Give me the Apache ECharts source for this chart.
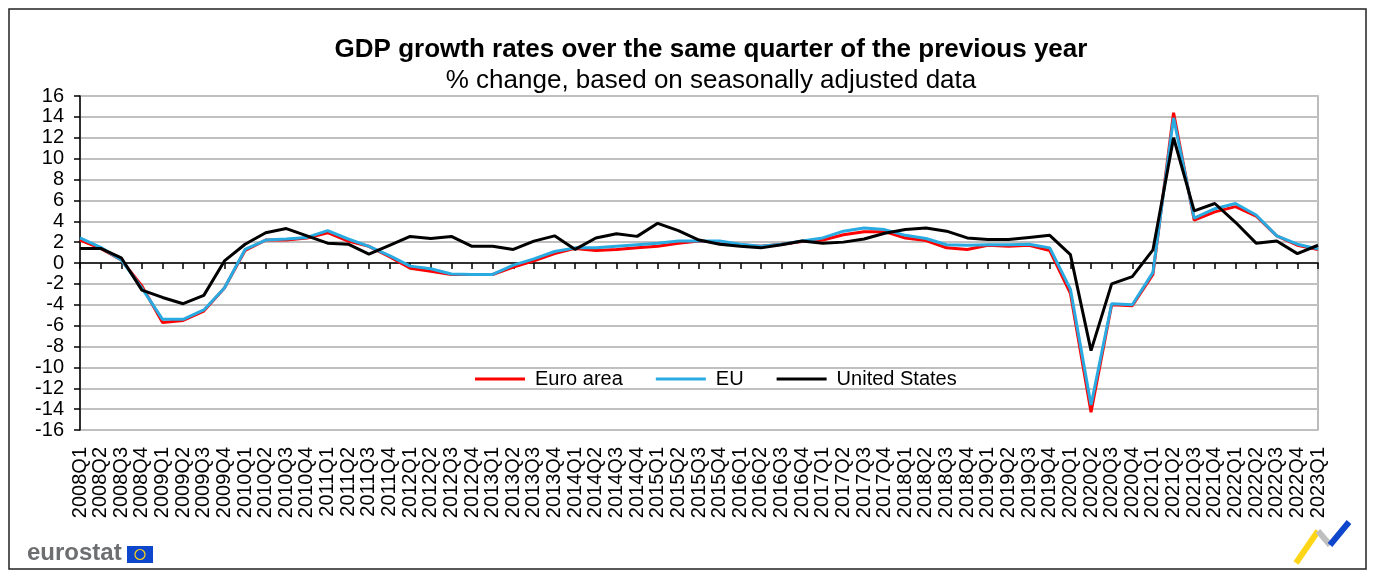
<!DOCTYPE html>
<html>
<head>
<meta charset="utf-8">
<script src="https://cdn.jsdelivr.net/npm/echarts@6/dist/echarts.min.js"></script>
<style>
  html, body { margin: 0; padding: 0; background: #fff; }
  #chart { width: 1375px; height: 573px; }
</style>
</head>
<body>
<div id="chart"></div>
<script>
// quarters on the x axis
const quarters = [
  '2008Q1','2008Q2','2008Q3','2008Q4','2009Q1','2009Q2','2009Q3','2009Q4',
  '2010Q1','2010Q2','2010Q3','2010Q4','2011Q1','2011Q2','2011Q3','2011Q4',
  '2012Q1','2012Q2','2012Q3','2012Q4','2013Q1','2013Q2','2013Q3','2013Q4',
  '2014Q1','2014Q2','2014Q3','2014Q4','2015Q1','2015Q2','2015Q3','2015Q4',
  '2016Q1','2016Q2','2016Q3','2016Q4','2017Q1','2017Q2','2017Q3','2017Q4',
  '2018Q1','2018Q2','2018Q3','2018Q4','2019Q1','2019Q2','2019Q3','2019Q4',
  '2020Q1','2020Q2','2020Q3','2020Q4','2021Q1','2021Q2','2021Q3','2021Q4',
  '2022Q1','2022Q2','2022Q3','2022Q4','2023Q1'
]

// % change y/y
const euroArea = [
  2.2, 1.4, 0.3, -2.2, -5.7, -5.5, -4.6, -2.4,
  1.2, 2.2, 2.2, 2.4, 2.9, 2.1, 1.6, 0.6,
  -0.5, -0.8, -1.1, -1.1, -1.1, -0.4, 0.2, 0.9,
  1.4, 1.2, 1.3, 1.45, 1.6, 1.9, 2.1, 2.0,
  1.75, 1.6, 1.8, 2.05, 2.2, 2.7, 3.0, 3.0,
  2.4, 2.15, 1.45, 1.3, 1.7, 1.6, 1.7, 1.2,
  -2.9, -14.3, -4.0, -4.1, -1.1, 14.4, 4.1, 4.9,
  5.4, 4.5, 2.6, 1.7, 1.3
]
const eu = [
  2.4, 1.5, 0.3, -2.4, -5.4, -5.4, -4.5, -2.4,
  1.3, 2.2, 2.3, 2.45, 3.1, 2.3, 1.6, 0.7,
  -0.3, -0.55, -1.05, -1.1, -1.1, -0.2, 0.4, 1.1,
  1.45, 1.45, 1.6, 1.75, 1.9, 2.1, 2.1, 2.1,
  1.8, 1.6, 1.8, 2.1, 2.4, 3.05, 3.35, 3.2,
  2.65, 2.35, 1.75, 1.7, 1.75, 1.75, 1.8, 1.45,
  -2.5, -13.6, -3.9, -4.0, -0.9, 13.9, 4.3, 5.2,
  5.7, 4.6, 2.6, 1.8, 1.35
]
const unitedStates = [
  1.4, 1.4, 0.5, -2.6, -3.3, -3.9, -3.1, 0.2,
  1.8, 2.9, 3.3, 2.6, 1.9, 1.8, 0.85, 1.7,
  2.55, 2.35, 2.55, 1.6, 1.6, 1.3, 2.1, 2.6,
  1.3, 2.4, 2.8, 2.55, 3.8, 3.1, 2.2, 1.8,
  1.6, 1.45, 1.75, 2.1, 1.9, 2.0, 2.3, 2.85,
  3.2, 3.35, 3.05, 2.4, 2.25, 2.25, 2.45, 2.65,
  0.8, -8.4, -2.0, -1.3, 1.25, 12.0, 5.0, 5.7,
  3.9, 1.9, 2.1, 0.9, 1.7
]

const font = 'Liberation Sans, Arial, sans-serif'

const chart = echarts.init(document.getElementById('chart'))
chart.setOption({
  animation: false,
  title: [
    {
      text: 'GDP growth rates over the same quarter of the previous year',
      left: 706,
      textAlign: 'center',
      top: 32,
      textStyle: { fontFamily: font, fontSize: 26, fontWeight: 'bold', color: '#000' }
    },
    {
      text: '% change, based on seasonally adjusted data',
      left: 706,
      textAlign: 'center',
      top: 63,
      textStyle: { fontFamily: font, fontSize: 26, fontWeight: 'normal', color: '#000' }
    }
  ],
  legend: {
    left: 470,
    top: 364,
    itemWidth: 50,
    itemHeight: 3,
    itemGap: 33,
    icon: 'rect',
    textStyle: { fontFamily: font, fontSize: 20, color: '#000', padding: [0, 0, 0, 5] },
    data: ['Euro area', 'EU', 'United States']
  },
  grid: {
    left: 80,
    right: 57,
    top: 96,
    bottom: 143,
    show: true,
    borderColor: '#a6a6a6',
    borderWidth: 1.5
  },
  xAxis: [
    {
      type: 'category',
      data: quarters,
      boundaryGap: false,
      position: 'bottom',
      axisLine: { show: false, onZero: false },
      axisTick: { show: false },
      axisLabel: {
        interval: 0,
        rotate: 90,
        margin: 17,
        fontFamily: font,
        fontSize: 20,
        color: '#000'
      },
      splitLine: { show: false }
    },
    {
      // zero line with its tick marks
      type: 'category',
      data: quarters,
      boundaryGap: false,
      position: 'top',
      axisLine: { show: true, onZero: true, lineStyle: { color: '#000', width: 1.5 } },
      axisTick: { show: true, inside: true, interval: 0, length: 6, lineStyle: { color: '#000', width: 1.5 } },
      axisLabel: { show: false },
      splitLine: { show: false }
    }
  ],
  yAxis: {
    type: 'value',
    min: -16,
    max: 16,
    interval: 2,
    axisLine: { show: true, lineStyle: { color: '#000', width: 1.5 } },
    axisTick: { show: true, length: 6, lineStyle: { color: '#000', width: 1.5 } },
    axisLabel: { fontFamily: font, fontSize: 20, color: '#000', margin: 16 },
    splitLine: { show: true, lineStyle: { color: '#c0c0c0', width: 2 } }
  },
  series: [
    {
      name: 'Euro area',
      type: 'line',
      data: euroArea,
      symbol: 'none',
      lineStyle: { color: '#ff0000', width: 3 },
      itemStyle: { color: '#ff0000' }
    },
    {
      name: 'EU',
      type: 'line',
      data: eu,
      symbol: 'none',
      lineStyle: { color: '#29abe2', width: 3 },
      itemStyle: { color: '#29abe2' }
    },
    {
      name: 'United States',
      type: 'line',
      data: unitedStates,
      symbol: 'none',
      lineStyle: { color: '#000000', width: 3 },
      itemStyle: { color: '#000000' }
    }
  ],
  graphic: [
    {
      type: 'rect',
      shape: { x: 9, y: 9, width: 1357, height: 560 },
      style: { fill: 'none', stroke: '#222', lineWidth: 1.5 },
      silent: true
    },
    {
      type: 'text',
      left: 27,
      top: 541,
      style: { text: 'eurostat', fontFamily: font, fontSize: 24, fontWeight: 'bold', fill: '#6d6e70' }
    },
    {
      type: 'rect',
      shape: { x: 127, y: 546, width: 26, height: 17 },
      style: { fill: '#0e47cb' }
    },
    {
      type: 'circle',
      shape: { cx: 140, cy: 554.5, r: 5 },
      style: { fill: 'none', stroke: '#ffd617', lineWidth: 1.2 }
    },
    {
      type: 'polyline',
      shape: { points: [[1296, 563], [1318, 531]] },
      style: { stroke: '#ffd617', lineWidth: 6 }
    },
    {
      type: 'polyline',
      shape: { points: [[1318, 531], [1330, 545]] },
      style: { stroke: '#bfbfbf', lineWidth: 6 }
    },
    {
      type: 'polyline',
      shape: { points: [[1330, 545], [1349, 522]] },
      style: { stroke: '#0e47cb', lineWidth: 6 }
    }
  ]
})
</script>
</body>
</html>
